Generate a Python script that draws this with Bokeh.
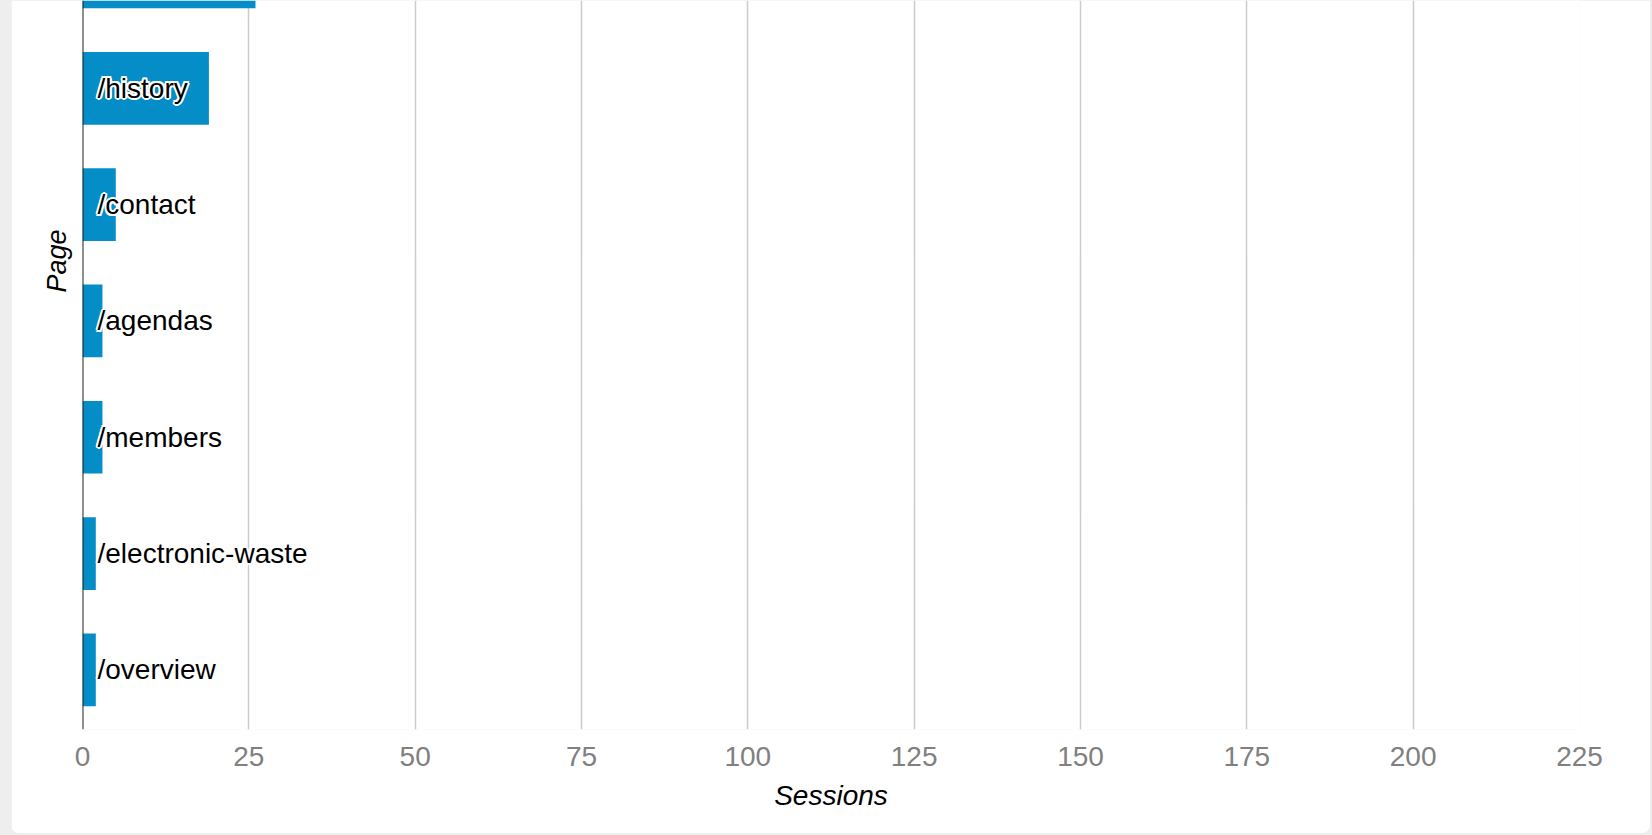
from math import pi
from bokeh.plotting import figure
from bokeh.models import ColumnDataSource, Span, Title, FixedTicker, Range1d
from bokeh.layouts import column
from bokeh.core.properties import value
from bokeh.embed import file_html
from bokeh.resources import INLINE

# Data (bottom to top); the top bar's label is outside the visible area
pages = ["/overview", "/electronic-waste", "/members", "/agendas", "/contact", "/history", ""]
sessions = [2, 2, 3, 3, 5, 19, 26]
x_ticks = [0, 25, 50, 75, 100, 125, 150, 175, 200, 225]

FONT = "Liberation Sans"
BAR = "#058dc7"

idx = list(range(len(pages)))
src = ColumnDataSource(dict(y=idx, v=sessions, label=pages, zero=[0] * len(pages)))

p = figure(
    width=1639, height=833,
    x_range=Range1d(0, 225), y_range=Range1d(-0.513, 5.755),
    output_backend="svg", toolbar_location=None,
    min_border_left=71, min_border_right=71, min_border_top=0, min_border_bottom=104,
    border_fill_color="white", background_fill_color="white",
    outline_line_color=None,
    styles={"border-radius": "0 0 8px 8px", "overflow": "hidden"},
)

p.hbar(y="y", right="v", left=0, height=0.625, source=src, color=BAR, line_color=None)

# white halo under the labels
halo = [(-2, 0), (2, 0), (0, -2), (0, 2), (-1.5, -1.5), (1.5, -1.5), (-1.5, 1.5), (1.5, 1.5)]
for dx, dy in halo:
    p.text(x="zero", y="y", text="label", source=src, x_offset=15 + dx, y_offset=0 + dy,
           text_font=value(FONT), text_font_size="28px", text_color="white",
           text_baseline="middle", text_align="left")
p.text(x="zero", y="y", text="label", source=src, x_offset=15, y_offset=0,
       text_font=value(FONT), text_font_size="28px", text_color="black",
       text_baseline="middle", text_align="left")

p.add_layout(Span(location=0, dimension="height", line_color="#222222", line_width=2))

# x axis
xa = p.xaxis[0]
xa.ticker = FixedTicker(ticks=x_ticks)
xa.axis_line_color = None
xa.major_tick_line_color = None
xa.minor_tick_line_color = None
xa.major_label_text_font = FONT
xa.major_label_text_font_size = "28px"
xa.major_label_text_color = "#808080"
xa.major_label_standoff = 11
xa.axis_label = "Sessions"
xa.axis_label_text_font = FONT
xa.axis_label_text_font_size = "28px"
xa.axis_label_text_font_style = "italic"
xa.axis_label_text_color = "black"
xa.axis_label_standoff = 11

p.xgrid.grid_line_color = "#cccccc"
p.xgrid.grid_line_width = 1.5
p.ygrid.grid_line_color = None

ya = p.yaxis[0]
ya.visible = False

p.add_layout(Title(text="Page", align="left", offset=437, standoff=22,
                   text_font=FONT, text_font_size="27px", text_font_style="italic",
                   text_color="black"), "left")

root = column(p, styles={"background-color": "#eeeeee", "padding-left": "11px",
                         "padding-right": "2px", "padding-bottom": "2px"})

open("out.html", "w").write(file_html(root, INLINE))
